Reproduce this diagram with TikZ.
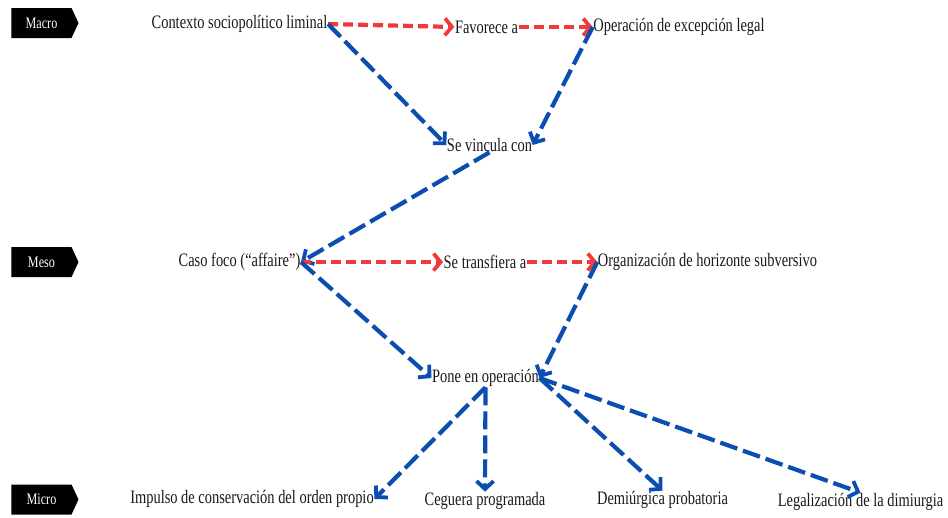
\documentclass[tikz,border=0pt]{standalone}
\usepackage{fontspec}
\setmainfont{Liberation Serif}[FakeStretch=0.76]
\usetikzlibrary{arrows.meta,shapes.symbols}
\definecolor{cblue}{HTML}{0B4DB0}
\definecolor{cred}{HTML}{F03A3A}
\tikzset{
  lvl/.style={signal, signal to=east, signal pointer angle=130, fill=black, text=white,
    minimum width=67pt, minimum height=30pt, inner sep=0pt, font=\fontsize{16}{16}\selectfont},
  txt/.style={inner sep=0.5pt, font=\fontsize{19}{19}\selectfont, text=black!90},
  bluearr/.style={draw=cblue, line width=4.2pt, dash pattern=on 18pt off 6pt,
    -{Straight Barb[length=8pt,width=17pt,line width=3.8pt]}},
  redarr/.style={draw=cred, line width=4.2pt, dash pattern=on 10pt off 5pt,
    -{Straight Barb[length=7pt,width=17pt,line width=3.8pt]}}
}
\begin{document}
\begin{tikzpicture}[x=1pt,y=-1pt]
\useasboundingbox (0,0) rectangle (948,517);
\node[lvl] (macro) at (41.5,23) {Macro};
\node[lvl] (meso) at (41.5,262) {Meso};
\node[lvl] (micro) at (41.5,499.5) {Micro};

\node[txt] (ctx) at (239.5,24) {Contexto sociopolítico liminal};
\node[txt] (fav) at (486.5,27) {Favorece a};
\node[txt] (ope) at (679,27) {Operación de excepción legal};
\node[txt] (vin) at (489.5,145) {Se vincula con};
\node[txt] (caso) at (239.5,262) {Caso foco (“affaire”)};
\node[txt] (tra) at (485,262) {Se transfiera a};
\node[txt] (org) at (707.5,262) {Organización de horizonte subversivo};
\node[txt] (pone) at (485.5,378) {Pone en operación};
\node[txt] (imp) at (252,499) {Impulso de conservación del orden propio};
\node[txt] (ceg) at (485,501) {Ceguera programada};
\node[txt] (dem) at (662.5,500) {Demiúrgica probatoria};
\node[txt] (leg) at (860.5,502) {Legalización de la dimiurgia};

\draw[redarr] (ctx.east) -- (fav.west);
\draw[redarr] (fav.east) -- (ope.west);
\draw[bluearr] (ctx.east) -- (vin.west);
\draw[bluearr] (ope.west) -- (vin.east);
\draw[bluearr] (vin.south) -- (caso.east);
\draw[redarr] (caso.east) -- (tra.west);
\draw[redarr] (tra.east) -- (org.west);
\draw[bluearr] (caso.east) -- (pone.west);
\draw[bluearr] (org.west) -- (pone.east);
\draw[bluearr] (pone.south) -- (imp.east);
\draw[bluearr] (pone.south) -- (ceg.north);
\draw[bluearr] (pone.east) -- (dem.north);
\draw[bluearr] (pone.east) -- (leg.north);
\end{tikzpicture}
\end{document}
